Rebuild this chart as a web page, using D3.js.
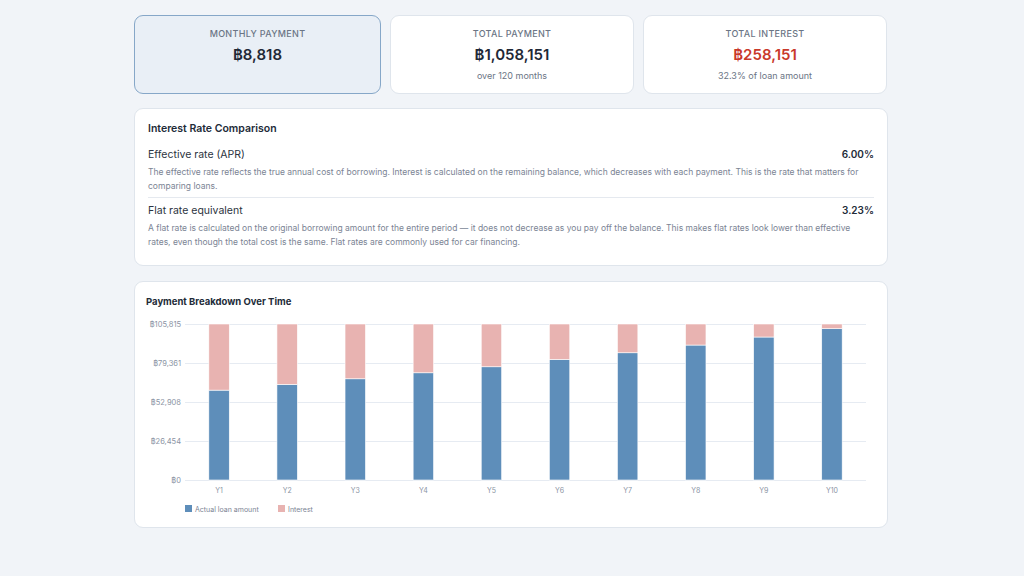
<!DOCTYPE html>
<html>
<head>
<meta charset="utf-8">
<script src="https://cdn.jsdelivr.net/npm/d3@7"></script>
<style>
  html, body { margin: 0; padding: 0; }
  body {
    width: 1024px; height: 576px; overflow: hidden;
    background: #f1f4f8;
    font-family: Inter, "Noto Sans", sans-serif;
    position: relative;
  }
  .card {
    position: absolute; box-sizing: border-box;
    background: #fff; border: 1px solid #dfe5ec; border-radius: 9px;
  }
  .stat { top: 15px; height: 79px; text-align: center; }
  .stat.active { background: #e9eff6; border-color: #86a7c8; }
  .stat .lbl { position: absolute; left: 0; right: 0; top: 12px; font-size: 9px; letter-spacing: 0.3px; color: #6b7585; font-weight: 500; }
  .stat .val { position: absolute; left: 0; right: 0; top: 29px; font-size: 15px; font-weight: 600; color: #1f2937; }
  .stat .val.red { color: #c9392b; }
  .stat .sub { position: absolute; left: 0; right: 0; top: 54px; font-size: 9px; color: #6b7585; }
  .txt { position: absolute; white-space: nowrap; }
</style>
</head>
<body>
<div id="root"></div>
<script>
// top stat cards
const statLabels = ['MONTHLY PAYMENT', 'TOTAL PAYMENT', 'TOTAL INTEREST'];
const statValues = ['฿8,818', '฿1,058,151', '฿258,151'];
const statSubs = ['', 'over 120 months', '32.3% of loan amount'];

// rate comparison rows
const rateNames = ['Effective rate (APR)', 'Flat rate equivalent'];
const rateValues = ['6.00%', '3.23%'];
const rateDescs = [
  ['The effective rate reflects the true annual cost of borrowing. Interest is calculated on the remaining balance, which decreases with each payment. This is the rate that matters for',
   'comparing loans.'],
  ['A flat rate is calculated on the original borrowing amount for the entire period — it does not decrease as you pay off the balance. This makes flat rates look lower than effective',
   'rates, even though the total cost is the same. Flat rates are commonly used for car financing.']
];

// chart data
const years = ['Y1', 'Y2', 'Y3', 'Y4', 'Y5', 'Y6', 'Y7', 'Y8', 'Y9', 'Y10'];
const annualPayment = [105815, 105815, 105815, 105815, 105815, 105815, 105815, 105815, 105815, 105815];
const principalPaid = [60960, 64850, 68650, 72720, 76800, 81830, 86300, 91540, 96980, 102620];
const yTicks = [0, 26454, 52908, 79361, 105815];
const seriesNames = ['Actual loan amount', 'Interest'];
const seriesColors = ['#5e8eba', '#e8b3b1'];

const root = d3.select('#root');

// ── Stat cards ────────────────────────────────────────────────
const cardX = [134, 390, 643];
const cardW = [247, 244, 244];
statLabels.forEach((lbl, i) => {
  const c = root.append('div')
    .attr('class', 'card stat' + (i === 0 ? ' active' : ''))
    .style('left', cardX[i] + 'px')
    .style('width', cardW[i] + 'px');
  c.append('div').attr('class', 'lbl').text(lbl);
  c.append('div').attr('class', 'val' + (i === 2 ? ' red' : '')).text(statValues[i]);
  if (statSubs[i]) c.append('div').attr('class', 'sub').text(statSubs[i]);
});

// ── Interest rate comparison ─────────────────────────────────
const rc = root.append('div').attr('class', 'card')
  .style('left', '134px').style('top', '108px')
  .style('width', '754px').style('height', '158px');

rc.append('div').attr('class', 'txt')
  .style('left', '13px').style('top', '13px')
  .style('font-size', '10.5px').style('font-weight', '600').style('color', '#222b38')
  .text('Interest Rate Comparison');

const rowTop = [39, 95];
rateNames.forEach((name, i) => {
  const t = rowTop[i];
  rc.append('div').attr('class', 'txt')
    .style('left', '13px').style('top', t + 'px')
    .style('font-size', '10.5px').style('color', '#2b3340')
    .text(name);
  rc.append('div').attr('class', 'txt')
    .style('right', '13px').style('top', t + 'px')
    .style('font-size', '10px').style('font-weight', '600').style('color', '#222b38')
    .text(rateValues[i]);
  rateDescs[i].forEach((line, j) => {
    rc.append('div').attr('class', 'txt')
      .style('left', '13px').style('top', (t + 19 + j * 14) + 'px')
      .style('font-size', '8.5px').style('color', '#7b8494')
      .text(line);
  });
});
rc.append('div')
  .style('position', 'absolute').style('left', '13px').style('right', '13px')
  .style('top', '88px').style('height', '1px').style('background', '#e5e9ef');

// ── Payment breakdown chart ──────────────────────────────────
const panel = root.append('div').attr('class', 'card')
  .style('left', '134px').style('top', '281px')
  .style('width', '754px').style('height', '247px');

const W = 752, H = 245;
const svg = panel.append('svg')
  .attr('width', W).attr('height', H)
  .style('position', 'absolute').style('left', 0).style('top', 0);

svg.append('text')
  .attr('x', 11).attr('y', 23)
  .attr('font-size', '9.5px').attr('font-weight', 700).attr('fill', '#222b38')
  .text('Payment Breakdown Over Time');

const plot = { left: 50, right: 731, top: 42, bottom: 198 };

const x = d3.scaleBand().domain(years).range([plot.left, plot.right]).padding(0);
const y = d3.scaleLinear().domain([0, d3.max(annualPayment)]).range([plot.bottom, plot.top]);

// grid + y labels
const yAxis = d3.axisLeft(y)
  .tickValues(yTicks)
  .tickSize(-(plot.right - plot.left))
  .tickPadding(4)
  .tickFormat(d => '฿' + d3.format(',')(d));

const yg = svg.append('g').attr('transform', `translate(${plot.left},0)`).call(yAxis);
yg.select('.domain').remove();
yg.selectAll('line').attr('stroke', '#e6ebf2').attr('stroke-width', 1);
yg.selectAll('text').attr('fill', '#8a93a3').attr('font-size', '7.5px').attr('font-family', 'Inter');

// x labels
const xAxis = d3.axisBottom(x).tickSize(0).tickPadding(8);
const xg = svg.append('g').attr('transform', `translate(0,${plot.bottom})`).call(xAxis);
xg.select('.domain').remove();
xg.selectAll('text').attr('fill', '#8a93a3').attr('font-size', '7px').attr('font-family', 'Inter');

// stacked bars
const rows = years.map((yr, i) => ({
  year: yr,
  principal: principalPaid[i],
  interest: annualPayment[i] - principalPaid[i]
}));
const stack = d3.stack().keys(['principal', 'interest'])(rows);
const barW = x.bandwidth() * 0.3;

svg.append('g').selectAll('g')
  .data(stack)
  .join('g')
  .attr('fill', (d, i) => seriesColors[i])
  .selectAll('rect')
  .data(d => d)
  .join('rect')
  .attr('x', d => x(d.data.year) + (x.bandwidth() - barW) / 2)
  .attr('width', barW)
  .attr('y', d => y(d[1]))
  .attr('height', d => y(d[0]) - y(d[1]))
  .attr('stroke', '#ffffff')
  .attr('stroke-width', 0.6);

// legend
const legX = [50, 143];
const leg = svg.append('g');
seriesNames.forEach((n, i) => {
  leg.append('rect')
    .attr('x', legX[i]).attr('y', 223)
    .attr('width', 7).attr('height', 7)
    .attr('fill', seriesColors[i]);
  leg.append('text')
    .attr('x', legX[i] + 10).attr('y', 229.5)
    .attr('font-size', '7px').attr('fill', '#7b8494').attr('font-family', 'Inter')
    .text(n);
});
</script>
</body>
</html>
